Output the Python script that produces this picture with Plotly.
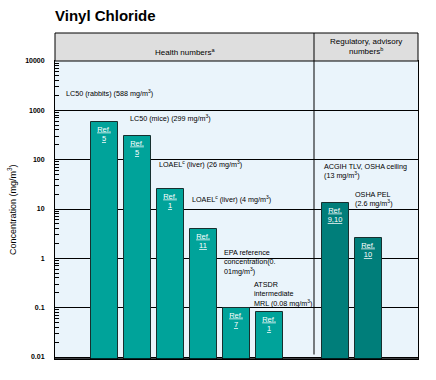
import plotly.graph_objects as go

# ---- data ----
health_cats = ["LC50 rabbits", "LC50 mice", "LOAEL liver 26", "LOAEL liver 4", "EPA RfC", "ATSDR MRL"]
health_vals = [588, 299, 26, 4, 0.1, 0.08]
health_refs = ["5", "5", "1", "11", "7", "1"]

reg_cats = ["ACGIH TLV / OSHA ceiling", "OSHA PEL"]
reg_vals = [13, 2.6]
reg_refs = ["9,10", "10"]

spacer = [" "]
category_order = health_cats + spacer + reg_cats

tick_vals = [0.01, 0.1, 1, 10, 100, 1000, 10000]
tick_text = ["0.01", "0.1", "1", "10", "100", "1000", "10000"]

# annotation texts with anchor (category index, log10 value)
notes = [
    ("LC50 (rabbits) (588 mg/m<sup>3</sup>)", -1.24, 3.35),
    ("LC50 (mice) (299 mg/m<sup>3</sup>)", 0.70, 2.845),
    ("LOAEL<sup>c</sup> (liver) (26 mg/m<sup>3</sup>)", 1.58, 1.912),
    ("LOAEL<sup>c</sup> (liver) (4 mg/m<sup>3</sup>)", 2.60, 1.203),
    ("EPA reference<br>concentration(0.<br>01mg/m<sup>3</sup>)", 3.55, -0.074),
    ("ATSDR<br>intermediate<br>MRL (0.08 mg/m<sup>3</sup>)", 4.48, -0.723),
    ("ACGIH TLV, OSHA ceiling<br>(13 mg/m<sup>3</sup>)", 6.58, 1.77),
    ("OSHA PEL<br>(2.6 mg/m<sup>3</sup>)", 7.52, 1.203),
]

FONT = "Arial, Liberation Sans, sans-serif"

fig = go.Figure()
fig.add_trace(go.Bar(
    x=health_cats, y=health_vals, width=0.82,
    marker=dict(color="#00A39A", line=dict(color="#17302f", width=1)),
    text=["Ref.<br>" + r for r in health_refs],
    textposition="inside", insidetextanchor="end", constraintext="none",
    textfont=dict(color="white", size=7.5, family=FONT, lineposition="under"),
    textangle=0, showlegend=False, hoverinfo="skip",
))
fig.add_trace(go.Bar(
    x=reg_cats, y=reg_vals, width=0.82,
    marker=dict(color="#007E7A", line=dict(color="#17302f", width=1)),
    text=["Ref.<br>" + r for r in reg_refs],
    textposition="inside", insidetextanchor="end", constraintext="none",
    textfont=dict(color="white", size=7.5, family=FONT, lineposition="under"),
    textangle=0, showlegend=False, hoverinfo="skip",
))

minor_vals = [m * d for d in [0.01, 0.1, 1, 10, 100, 1000] for m in range(2, 10)]

fig.update_layout(
    width=436, height=380,
    margin=dict(l=55, r=18, t=61, b=21),
    paper_bgcolor="white", plot_bgcolor="#EAF4FB",
    bargap=0,
    title=dict(text="<b>Vinyl Chloride</b>", x=55/436, xanchor="left",
               y=1 - 16/380, yanchor="middle",
               font=dict(family=FONT, size=15, color="black")),
    xaxis=dict(type="category", categoryorder="array", categoryarray=category_order,
               range=[-1.5, 9.5], showticklabels=False, ticks="", showgrid=False,
               showline=True, linecolor="black", linewidth=1, mirror=True, zeroline=False,
               automargin=False),
    yaxis=dict(type="log", range=[-2.04, 4], tickvals=tick_vals, ticktext=tick_text,
               showgrid=True, gridcolor="black", gridwidth=1,
               ticks="inside", ticklen=6, tickcolor="black", ticklabelstandoff=8,
               tickfont=dict(family=FONT, size=7, color="black", weight="bold"),
               minor=dict(tickvals=minor_vals, ticks="inside", ticklen=4, tickcolor="black", showgrid=False),
               showline=True, linecolor="black", linewidth=1, mirror=True, zeroline=False,
               automargin=False),
    font=dict(family=FONT, color="black"),
)

# header box and divider
hdr = 28 / 298
fig.add_shape(type="rect", xref="paper", yref="paper", x0=0, x1=1, y0=1, y1=1 + hdr,
              fillcolor="#DEDEDE", line=dict(color="black", width=1), layer="above")
fig.add_shape(type="line", xref="paper", yref="paper", x0=0.7135, x1=0.7135, y0=0.015, y1=1 + hdr,
              line=dict(color="black", width=1), layer="above")
# double bottom line
fig.add_shape(type="line", xref="paper", yref="paper", x0=0, x1=1, y0=0, y1=0,
              line=dict(color="black", width=1.5), layer="above")

fig.add_annotation(text="Health numbers<sup>a</sup>", xref="paper", yref="paper",
                   x=0.358, y=1.03, xanchor="center", yanchor="middle", showarrow=False,
                   font=dict(family=FONT, size=8))
fig.add_annotation(text="Regulatory, advisory<br>numbers<sup>b</sup>", xref="paper", yref="paper",
                   x=0.857, y=1.047, xanchor="center", yanchor="middle", showarrow=False,
                   font=dict(family=FONT, size=8))

fig.add_annotation(text="Concentration (mg/m<sup>3</sup>)", xref="paper", yref="paper",
                   x=0, xshift=-43, y=0.5, xanchor="center", yanchor="middle",
                   textangle=-90, showarrow=False,
                   font=dict(family=FONT, size=9))

for txt, xi, ylog in notes:
    fig.add_annotation(text=txt, x=xi, y=ylog, xref="x", yref="y", xanchor="left",
                       yanchor="middle", align="left", showarrow=False,
                       font=dict(family=FONT, size=7.2, color="black"))

fig.write_html("out.html", config={"displayModeBar": False},
               post_script="document.body.style.margin='0';document.body.style.overflow='hidden';")
